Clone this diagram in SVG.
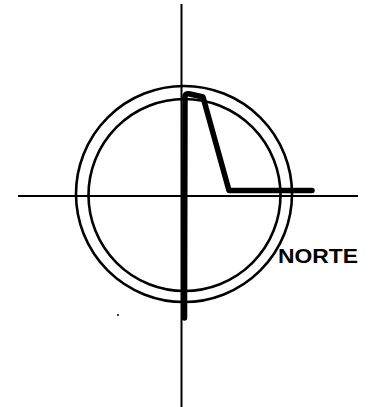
<svg xmlns="http://www.w3.org/2000/svg" width="376" height="407" viewBox="0 0 376 407">
<style>
.ax{stroke:#000;stroke-width:2;fill:none}
.ring{stroke:#000;stroke-width:2.6;fill:none}
.needle{stroke:#000;stroke-width:5.5;fill:none;stroke-linejoin:round;stroke-linecap:round}
.lbl{font-family:"Liberation Sans",Arial,sans-serif;font-size:20.5px;font-weight:bold;fill:#000}
</style>
<rect width="376" height="407" fill="#fff"/>
<g id="axes">
<line class="ax" x1="181.5" y1="4" x2="181.5" y2="407"/>
<line class="ax" x1="18" y1="196" x2="358" y2="196"/>
</g>
<g id="rings">
<circle class="ring" cx="184" cy="194" r="108"/>
<circle class="ring" cx="184.5" cy="195" r="96"/>
</g>
<g id="needle">
<path class="needle" d="M184.5,318 L185,96 Q186,93 190,94 L203,97 L229,190.5 L312,190.5"/>
</g>
<g id="label">
<text class="lbl" x="278" y="263" textLength="80" lengthAdjust="spacingAndGlyphs">NORTE</text>
</g>
<circle cx="118" cy="315" r="1" fill="#000"/>
</svg>
